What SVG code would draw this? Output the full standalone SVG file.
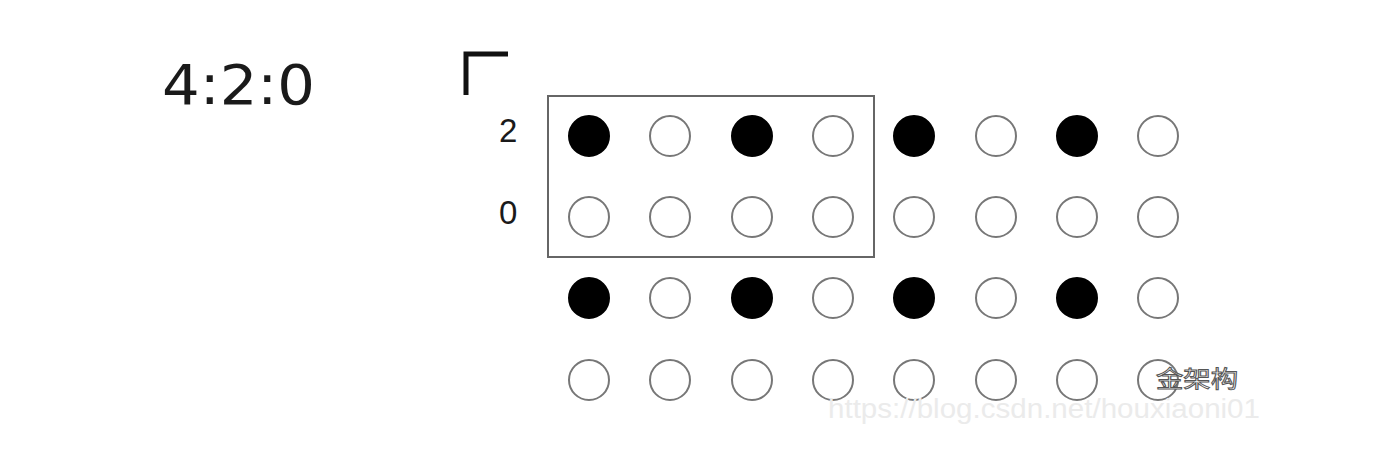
<svg xmlns="http://www.w3.org/2000/svg" width="1396" height="460" viewBox="0 0 1396 460">
<style>
.lbl{font-family:"Liberation Sans",Arial,sans-serif;fill:#1a1a1a}
.f{fill:#000;stroke:#000;stroke-width:2}
.o{fill:#fff;stroke:#777;stroke-width:2}
.wm{font-family:"Liberation Sans",Arial,sans-serif;fill:#ebebeb;font-size:27px}
.wm2{font-family:"Noto Sans CJK SC",sans-serif;fill:#fff;stroke:#555;stroke-width:1;font-size:23px}
</style>
<rect width="1396" height="460" fill="#fff"/>
<g id="title"><text x="162" y="104" font-family="'DejaVu Sans',sans-serif" fill="#1a1a1a" font-size="56" textLength="153" lengthAdjust="spacingAndGlyphs">4:2:0</text></g>
<g id="corner"><path d="M466,95 V54 H508" fill="none" stroke="#111" stroke-width="5"/></g>
<g id="rowlabels">
<text class="lbl" x="499" y="142" font-size="33">2</text>
<text class="lbl" x="499" y="224" font-size="33">0</text>
</g>
<g id="box"><rect x="548" y="96" width="326" height="161" fill="none" stroke="#666" stroke-width="2"/></g>
<g id="row1">
<circle class="f" cx="589" cy="136" r="20"/><circle class="o" cx="670" cy="136" r="20"/>
<circle class="f" cx="752" cy="136" r="20"/><circle class="o" cx="833" cy="136" r="20"/>
<circle class="f" cx="914" cy="136" r="20"/><circle class="o" cx="996" cy="136" r="20"/>
<circle class="f" cx="1077" cy="136" r="20"/><circle class="o" cx="1158" cy="136" r="20"/>
</g>
<g id="row2">
<circle class="o" cx="589" cy="217" r="20"/><circle class="o" cx="670" cy="217" r="20"/>
<circle class="o" cx="752" cy="217" r="20"/><circle class="o" cx="833" cy="217" r="20"/>
<circle class="o" cx="914" cy="217" r="20"/><circle class="o" cx="996" cy="217" r="20"/>
<circle class="o" cx="1077" cy="217" r="20"/><circle class="o" cx="1158" cy="217" r="20"/>
</g>
<g id="row3">
<circle class="f" cx="589" cy="298" r="20"/><circle class="o" cx="670" cy="298" r="20"/>
<circle class="f" cx="752" cy="298" r="20"/><circle class="o" cx="833" cy="298" r="20"/>
<circle class="f" cx="914" cy="298" r="20"/><circle class="o" cx="996" cy="298" r="20"/>
<circle class="f" cx="1077" cy="298" r="20"/><circle class="o" cx="1158" cy="298" r="20"/>
</g>
<g id="row4">
<circle class="o" cx="589" cy="380" r="20"/><circle class="o" cx="670" cy="380" r="20"/>
<circle class="o" cx="752" cy="380" r="20"/><circle class="o" cx="833" cy="380" r="20"/>
<circle class="o" cx="914" cy="380" r="20"/><circle class="o" cx="996" cy="380" r="20"/>
<circle class="o" cx="1077" cy="380" r="20"/><circle class="o" cx="1158" cy="380" r="20"/>
</g>
<g id="watermark">
<text class="wm" x="828" y="418" textLength="432" lengthAdjust="spacingAndGlyphs">https://blog.csdn.net/houxiaoni01</text>
<text class="wm2" x="1156" y="387" textLength="82" lengthAdjust="spacingAndGlyphs">金架构</text>
</g>
</svg>
